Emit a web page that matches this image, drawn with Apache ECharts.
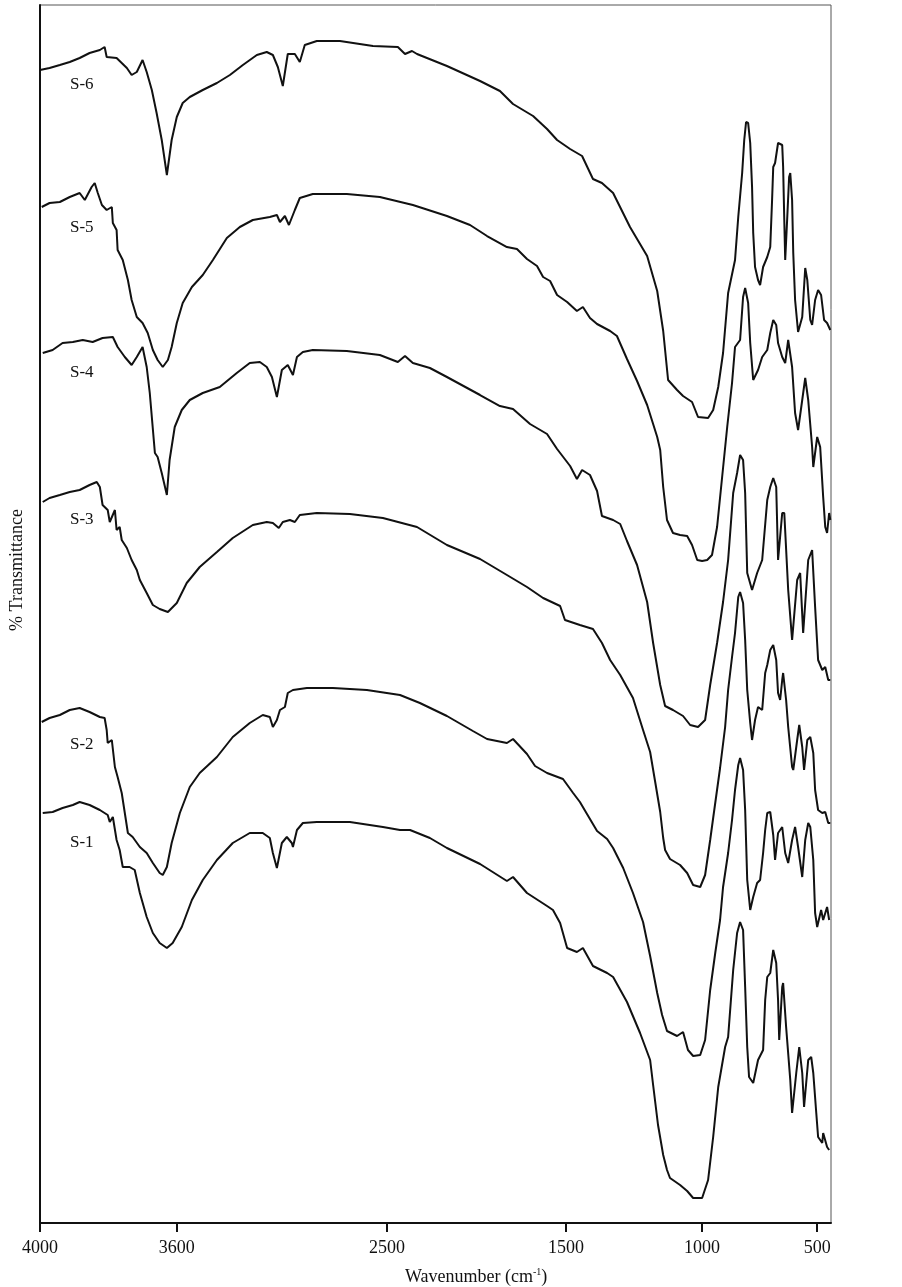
<!DOCTYPE html>
<html>
<head>
<meta charset="utf-8">
<script src="https://cdn.jsdelivr.net/npm/echarts@6/dist/echarts.min.js"></script>
<style>
  html, body { margin: 0; padding: 0; background: #fff; }
  #chart { width: 902px; height: 1287px; }
</style>
</head>
<body>
<div id="chart"></div>
<script>
// x tick labels (cm-1)
const wavenumberTicks = [4000, 3600, 2500, 1500, 1000, 500]
const sampleNames = ['S-1', 'S-2', 'S-3', 'S-4', 'S-5', 'S-6']

// spectra: [wavenumber, transmittance (arbitrary, stacked)]
const s6 = [[4000,1153],[3972,1155],[3942,1158],[3913,1161],[3884,1165],[3855,1170],[3825,1173],[3811,1176],[3805,1166],[3776,1165],[3746,1155],[3732,1148],[3717,1151],[3700,1163],[3688,1151],[3673,1133],[3659,1110],[3644,1083],[3629,1048],[3615,1083],[3600,1106],[3569,1120],[3532,1126],[3464,1133],[3390,1140],[3322,1148],[3254,1158],[3181,1168],[3129,1171],[3097,1168],[3071,1156],[3045,1137],[3019,1169],[2982,1169],[2956,1161],[2930,1178],[2867,1182],[2746,1182],[2573,1177],[2439,1176],[2399,1169],[2360,1172],[2332,1169],[2165,1157],[1980,1142],[1869,1132],[1796,1119],[1684,1107],[1606,1094],[1550,1083],[1485,1074],[1441,1067],[1401,1044],[1368,1040],[1327,1030],[1265,996],[1202,967],[1165,932],[1143,892],[1125,843],[1092,833],[1070,827],[1037,821],[1015,806],[974,805],[952,813],[930,836],[909,870],[887,930],[857,963],[843,1006],[826,1050],[817,1083],[809,1101],[800,1100],[791,1080],[783,1036],[778,990],[770,956],[757,943],[748,938],[735,956],[717,966],[704,976],[696,1023],[691,1056],[683,1060],[670,1080],[652,1078],[648,1056],[643,1003],[639,963],[630,1006],[622,1046],[617,1050],[609,1023],[604,970],[596,923],[583,891],[565,906],[552,955],[543,943],[530,903],[522,898],[509,923],[496,933],[483,928],[470,903],[457,900],[443,893]]
const s5 = [[3995,1016],[3972,1020],[3942,1021],[3913,1026],[3884,1030],[3869,1023],[3849,1036],[3840,1040],[3831,1030],[3819,1018],[3805,1013],[3790,1016],[3787,1000],[3776,993],[3773,973],[3758,963],[3743,943],[3732,923],[3717,906],[3700,900],[3685,890],[3670,873],[3656,863],[3641,856],[3626,863],[3615,876],[3600,900],[3569,920],[3521,936],[3464,948],[3411,963],[3338,985],[3270,996],[3202,1003],[3113,1006],[3076,1008],[3060,1001],[3034,1007],[3013,998],[2982,1013],[2956,1025],[2888,1029],[2710,1029],[2537,1026],[2355,1018],[2165,1007],[2036,998],[1941,987],[1830,976],[1774,974],[1718,964],[1662,957],[1628,946],[1589,942],[1550,928],[1496,921],[1460,912],[1438,916],[1412,905],[1386,899],[1338,892],[1313,887],[1276,864],[1239,842],[1202,818],[1180,799],[1165,786],[1154,773],[1143,736],[1129,703],[1107,690],[1081,688],[1055,687],[1037,678],[1018,663],[1000,662],[978,663],[957,668],[935,696],[913,746],[891,796],[870,840],[857,876],[835,883],[822,926],[813,935],[800,920],[791,880],[778,843],[757,853],[739,866],[717,873],[704,890],[691,903],[678,898],[670,880],[652,866],[639,860],[626,883],[609,856],[596,810],[583,793],[565,823],[552,845],[539,823],[522,776],[517,756],[500,786],[487,776],[474,726],[465,696],[457,690],[448,710],[443,703]]
const s4 = [[3992,870],[3963,873],[3934,880],[3904,881],[3875,883],[3846,881],[3817,885],[3787,886],[3773,876],[3752,866],[3732,858],[3717,866],[3700,876],[3688,856],[3679,830],[3664,770],[3656,766],[3644,750],[3629,728],[3621,763],[3606,796],[3574,813],[3532,823],[3464,830],[3375,836],[3286,850],[3218,860],[3165,861],[3129,856],[3102,846],[3076,826],[3050,853],[3019,858],[2992,848],[2971,866],[2940,871],[2888,873],[2710,872],[2537,868],[2439,861],[2399,867],[2355,860],[2260,855],[2165,846],[1980,828],[1869,817],[1796,814],[1701,799],[1606,789],[1550,774],[1485,757],[1460,744],[1441,753],[1412,748],[1386,732],[1368,707],[1327,703],[1301,699],[1276,682],[1239,658],[1202,621],[1180,580],[1154,538],[1136,517],[1107,513],[1070,507],[1044,498],[1015,496],[987,503],[965,538],[935,580],[909,621],[887,663],[865,730],[848,750],[835,768],[822,763],[813,730],[804,650],[783,633],[761,650],[739,663],[717,723],[704,736],[691,745],[678,736],[670,663],[652,710],[643,710],[626,633],[609,583],[587,643],[574,650],[561,590],[539,663],[522,673],[509,616],[496,563],[478,553],[465,556],[452,543],[443,543]]
const s3 = [[3992,721],[3972,725],[3942,728],[3913,731],[3884,733],[3855,738],[3834,741],[3825,736],[3817,718],[3802,713],[3796,701],[3781,713],[3776,693],[3767,696],[3761,683],[3746,675],[3732,663],[3717,653],[3708,643],[3688,630],[3670,618],[3650,614],[3626,611],[3600,620],[3548,640],[3480,656],[3390,671],[3307,685],[3202,698],[3129,701],[3097,700],[3066,695],[3045,701],[3008,703],[2982,701],[2956,708],[2867,710],[2694,709],[2521,705],[2332,696],[2165,678],[1980,664],[1830,648],[1718,636],[1628,625],[1533,617],[1506,603],[1449,598],[1401,594],[1368,580],[1338,563],[1301,548],[1254,525],[1217,493],[1191,471],[1173,442],[1154,411],[1143,385],[1136,373],[1118,364],[1081,358],[1055,350],[1033,338],[1007,336],[987,348],[965,383],[952,405],[922,455],[900,496],[887,533],[870,566],[857,590],[843,626],[835,631],[822,620],[813,583],[804,533],[791,500],[783,483],[770,503],[757,516],[739,513],[726,550],[717,558],[704,573],[691,578],[678,563],[670,530],[661,523],[652,543],[648,550],[635,523],[626,496],[609,456],[604,453],[587,483],[578,498],[565,476],[557,453],[543,483],[530,486],[517,470],[509,433],[496,413],[478,410],[465,411],[452,400],[443,400]]
const s2 = [[3995,501],[3972,505],[3942,508],[3913,513],[3884,515],[3855,511],[3825,506],[3811,505],[3805,493],[3802,480],[3790,483],[3781,456],[3773,446],[3761,430],[3752,410],[3743,390],[3729,386],[3708,376],[3688,370],[3670,360],[3650,350],[3641,348],[3629,356],[3615,380],[3584,410],[3532,436],[3480,450],[3390,466],[3307,486],[3218,500],[3150,508],[3113,506],[3097,496],[3076,503],[3060,513],[3034,516],[3019,530],[2992,533],[2919,535],[2783,535],[2605,533],[2427,528],[2316,520],[2165,507],[2020,492],[1941,484],[1830,480],[1796,484],[1718,469],[1673,457],[1606,450],[1517,444],[1474,430],[1449,421],[1423,409],[1386,392],[1349,384],[1327,375],[1290,355],[1254,330],[1217,301],[1191,267],[1165,230],[1147,208],[1129,192],[1092,187],[1070,191],[1052,173],[1033,167],[1007,168],[987,183],[965,233],[943,270],[922,303],[909,336],[887,370],[870,403],[857,433],[843,458],[835,465],[822,453],[813,413],[804,343],[791,313],[778,326],[761,340],[748,343],[735,370],[726,393],[717,410],[704,411],[691,388],[683,363],[670,390],[652,396],[639,370],[626,360],[609,383],[596,396],[583,376],[565,346],[552,383],[539,400],[530,396],[517,363],[509,310],[500,296],[483,313],[474,303],[457,316],[448,303]]
const s1 = [[3992,410],[3963,411],[3934,415],[3904,418],[3884,421],[3855,418],[3825,413],[3802,408],[3796,401],[3787,406],[3776,383],[3767,373],[3758,356],[3738,356],[3723,353],[3708,330],[3688,306],[3670,290],[3650,280],[3629,275],[3612,280],[3574,296],[3521,323],[3464,343],[3390,363],[3307,380],[3218,390],[3150,390],[3113,385],[3097,370],[3076,355],[3050,380],[3024,386],[2998,380],[2992,376],[2971,393],[2940,400],[2867,401],[2694,401],[2521,396],[2427,393],[2371,393],[2260,385],[2165,375],[1980,359],[1830,342],[1796,346],[1718,330],[1606,317],[1573,313],[1533,300],[1496,275],[1460,271],[1438,275],[1401,257],[1349,250],[1327,246],[1276,221],[1228,190],[1191,163],[1180,138],[1162,98],[1143,68],[1129,53],[1118,45],[1081,38],[1055,32],[1033,25],[1000,25],[974,43],[952,86],[930,136],[900,176],[887,186],[865,253],[848,290],[835,301],[822,293],[813,236],[804,176],[796,146],[778,140],[757,163],[735,173],[726,223],[717,246],[704,250],[691,273],[678,260],[670,223],[665,183],[652,236],[648,240],[635,196],[617,143],[609,110],[591,150],[578,176],[565,150],[557,116],[539,163],[526,166],[517,150],[504,110],[496,86],[478,80],[474,90],[457,76],[448,73]]

// the x scale of the original is piecewise linear between the labelled ticks
const scaleWn = [4000, 3600, 2500, 1500, 1000, 500, 440]
const scalePos = [0, 136.7, 346.7, 525.7, 661.7, 776.7, 790.5]

function wnToPos(w) {
  for (let i = 0; i < scaleWn.length - 1; i++) {
    const a = scaleWn[i], b = scaleWn[i + 1]
    if (w <= a && w >= b || i === scaleWn.length - 2) {
      return scalePos[i] + (a - w) / (a - b) * (scalePos[i + 1] - scalePos[i])
    }
  }
  return 0
}

const FONT = '"Liberation Serif", "Times New Roman", serif'
const INK = '#111'

const chart = echarts.init(document.getElementById('chart'))
const allSeries = [s1, s2, s3, s4, s5, s6]
const tickPos = wavenumberTicks.map(wnToPos)

// label anchors for S-1 .. S-6 (pixel centres)
const labelY = [843, 745, 520, 373, 228, 85]

chart.setOption({
  animation: false,
  backgroundColor: '#fff',
  grid: {
    left: 40,
    right: 71,
    top: 5,
    bottom: 64,
    show: true,
    borderColor: '#555',
    borderWidth: 1
  },
  xAxis: {
    type: 'value',
    min: 0,
    max: scalePos[scalePos.length - 1],
    axisLine: { lineStyle: { color: INK, width: 2 } },
    axisTick: {
      show: true,
      customValues: tickPos,
      length: 9,
      lineStyle: { color: INK, width: 2 }
    },
    axisLabel: {
      customValues: tickPos,
      margin: 16,
      color: INK,
      fontSize: 18,
      fontFamily: FONT,
      formatter(v) {
        let best = 0
        tickPos.forEach((p, i) => { if (Math.abs(p - v) < Math.abs(tickPos[best] - v)) best = i })
        return String(wavenumberTicks[best])
      }
    },
    splitLine: { show: false }
  },
  yAxis: {
    type: 'value',
    min: 0,
    max: 1218,
    axisLine: { show: true, lineStyle: { color: INK, width: 2 } },
    axisTick: { show: false },
    axisLabel: { show: false },
    splitLine: { show: false }
  },
  series: allSeries.map((d, i) => ({
    name: sampleNames[i],
    type: 'line',
    data: d.map(p => [wnToPos(p[0]), p[1]]),
    showSymbol: false,
    lineStyle: { color: INK, width: 2 },
    z: 2
  })),
  graphic: [
    {
      type: 'text',
      x: 17,
      y: 570,
      rotation: Math.PI / 2,
      style: {
        text: '% Transmittance',
        fill: INK,
        font: '18px ' + FONT,
        align: 'center',
        verticalAlign: 'middle'
      }
    },
    {
      type: 'text',
      x: 405,
      y: 1267,
      style: {
        text: '{a|Wavenumber (cm}{s|-1}{a|)}',
        fill: INK,
        rich: {
          a: { fontSize: 18, fontFamily: FONT, fill: INK, color: INK, lineHeight: 21 },
          s: { fontSize: 10, fontFamily: FONT, fill: INK, color: INK, lineHeight: 12, verticalAlign: 'top' }
        }
      }
    }
  ].concat(sampleNames.map((n, i) => ({
    type: 'text',
    x: 70,
    y: labelY[i],
    style: {
      text: n,
      fill: INK,
      font: '17px ' + FONT,
      align: 'left',
      verticalAlign: 'middle'
    }
  })))
})
</script>
</body>
</html>
